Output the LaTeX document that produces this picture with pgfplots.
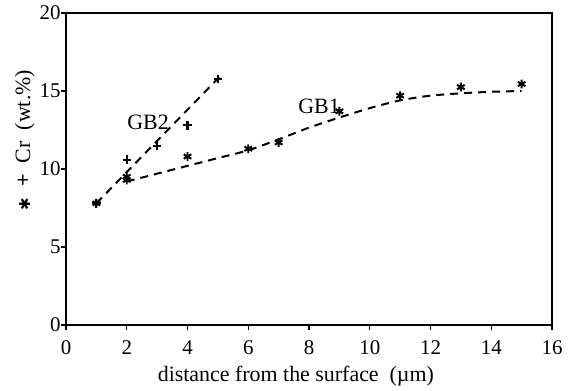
\documentclass[border=0pt]{standalone}
\usepackage{pgfplots}
\pgfplotsset{compat=1.18}
\usepackage{fontspec}
\setmainfont{Liberation Serif}
\newfontfamily\djv{DejaVu Sans}
\begin{document}
\begin{tikzpicture}
\useasboundingbox (0,0) rectangle (576bp,391bp);
\begin{axis}[
  at={(66bp,66bp)}, anchor=south west,
  scale only axis, width=486bp, height=312bp,
  xmin=0, xmax=16, ymin=0, ymax=20,
  xtick={0,2,...,16}, ytick={0,5,10,15,20},
  tick align=outside, tick pos=left,
  major tick length=5bp,
  axis line style={line width=1.6pt},
  tick style={line width=1.2pt, black},
  /pgf/number format/assume math mode=true,
  ticklabel style={font=\fontsize{21}{23}\selectfont},
  xticklabel style={yshift=-7bp},
  yticklabel style={xshift=3bp},
  xlabel={distance from the surface\ \ (\textmu m)},
  xlabel style={font=\fontsize{22}{24}\selectfont, at={(ticklabel cs:0.473)}, yshift=-5bp},
  ylabel={{\djv\fontsize{15}{17}\selectfont ✱}\ \ \textbf{+}\ \ Cr\ \ (wt.\%)},
  ylabel style={font=\fontsize{22}{24}\selectfont, at={(ticklabel cs:0.593)}, yshift=-2bp},
  clip=false,
]
% GB2 trend line
\addplot[black, line width=2pt, dash pattern=on 8bp off 6bp] coordinates {(1,7.8) (5.05,15.9)};
% GB1 fitted curve
\addplot[black, line width=2pt, dash pattern=on 8bp off 6bp, smooth] coordinates {
(2,9.2) (3,9.7) (4,10.2) (5,10.7) (6,11.2) (7,11.9) (8,12.65) (9,13.3) (10,13.9) (11,14.4) (12,14.7) (13,14.85) (14,14.95) (15,15.0)};
% GB1 points (asterisks)
\addplot[only marks, mark=asterisk, mark size=4.4bp, line width=2pt, black] coordinates {
(1,7.8) (2,9.3) (2,9.5) (4,10.8) (6,11.3) (7,11.7) (9,13.7) (11,14.7) (13,15.25) (15,15.45)};
% GB2 points (plus)
\addplot[only marks, mark=+, mark size=4.2bp, line width=2.2pt, black] coordinates {
(1,7.8) (2,10.6) (3,11.5) (4,12.8) (5,15.75)};
\node[font=\fontsize{22}{24}\selectfont] at (axis cs:2.7,12.98) {GB2};
\node[font=\fontsize{22}{24}\selectfont] at (axis cs:8.33,14.0) {GB1};
\end{axis}
\end{tikzpicture}
\end{document}
